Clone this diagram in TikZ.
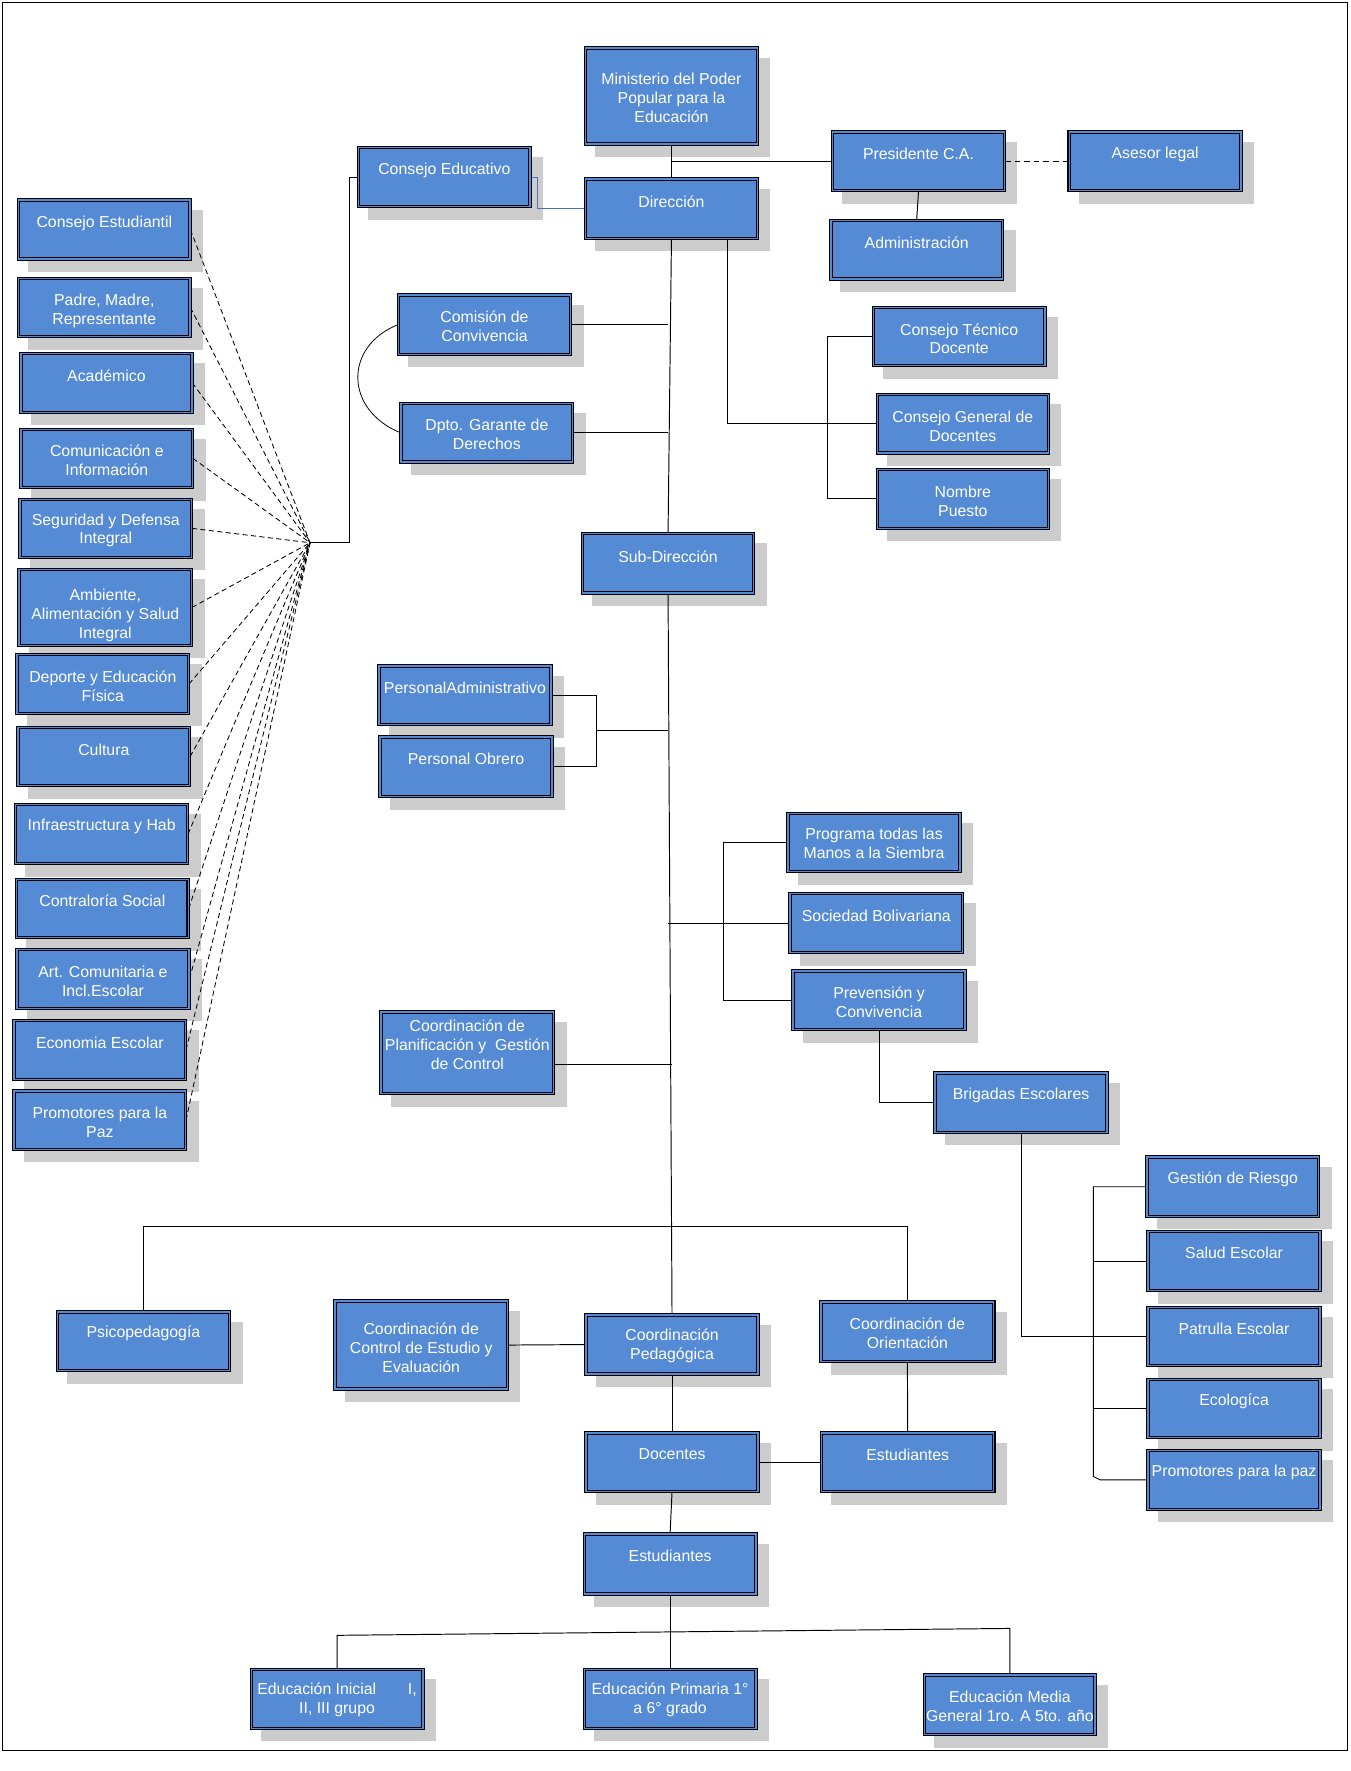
\documentclass[tikz,border=0pt]{standalone}
\usepackage{fontspec}
\setmainfont{Liberation Sans}
\pgfdeclarelayer{shadowlayer}
\pgfdeclarelayer{linelayer}
\pgfsetlayers{shadowlayer,linelayer,main}
\definecolor{boxblue}{RGB}{85,139,213}
\definecolor{shadowgray}{RGB}{204,204,204}
\definecolor{linkblue}{RGB}{68,114,196}
\tikzset{
  orgbox/.style={rectangle, draw=black, line width=0.9pt, double=boxblue, double distance=1.3pt, fill=boxblue, inner sep=0pt},
  boxtext/.style={text=white, align=center, inner sep=0pt, font=\fontsize{14}{16.7}\selectfont},
  conn/.style={draw=black, line width=0.85pt},
  dashconn/.style={draw=black, line width=0.75pt, dash pattern=on 4.5pt off 3pt},
}
% name, x1, y1, x2, y2, text centre y, text
\newcommand\orgnode[7]{%
  \begin{pgfonlayer}{shadowlayer}
    \fill[shadowgray] (#2+10,#3+10) rectangle (#4+10,#5+10);
  \end{pgfonlayer}
  \node[orgbox, minimum width={(#4-#2-3.1)*1pt}, minimum height={(#5-#3-3.1)*1pt},
        label={[boxtext, yshift={((#3+#5)/2-#6)*1pt}]center:#7}]
     (#1) at ({(#2+#4)/2},{(#3+#5)/2}) {};
}
\begin{document}
\begin{tikzpicture}[x=1pt,y=-1pt]
\useasboundingbox (0,0) rectangle (1193,1565);
\draw[line width=1pt] (2,2) rectangle (1190.5,1546.5);

% left column
\orgnode{cest}{15}{175.3}{169.4}{230.6}{197.4}{Consejo Estudiantil}
\orgnode{padre}{15}{244.5}{169.4}{299}{274.4}{Padre, Madre,\\Representante}
\orgnode{acad}{17}{310.8}{171.1}{365.9}{332}{Académico}
\orgnode{comu}{17.1}{377.9}{171.7}{432.4}{407.1}{Comunicación e\\Información}
\orgnode{segu}{16.2}{439.8}{170.8}{494}{468.7}{Seguridad y Defensa\\Integral}
\orgnode{ambi}{15.3}{501.7}{170.8}{571.8}{543.7}{Ambiente,\\Alimentación y Salud\\Integral}
\orgnode{depo}{13.5}{576.8}{168.2}{631.9}{606.4}{Deporte y Educación\\Física}
\orgnode{cult}{14.4}{641.3}{169.1}{695.8}{662.2}{Cultura}
\orgnode{infra}{12.3}{709.3}{167.3}{764.7}{730.5}{Infraestructura y Hab}
\orgnode{contra}{13}{775.6}{167.9}{830.1}{795.9}{Contraloría Social}
\orgnode{artc}{13.5}{837.5}{168.5}{892.6}{867}{Art. Comunitaria e\\Incl.Escolar}
\orgnode{econ}{11}{900.2}{165.5}{955.3}{921.1}{Economia Escolar}
\orgnode{promo}{11}{962.6}{165.5}{1017.2}{991.6}{Promotores para la\\Paz}

% top and middle
\orgnode{mini}{515.9}{40.9}{670.8}{128.7}{86.3}{Ministerio del Poder\\Popular para la\\Educación}
\orgnode{cedu}{315.2}{128.7}{470.1}{184.1}{150.2}{Consejo Educativo}
\orgnode{dire}{515.9}{156.7}{670.8}{212.1}{178.2}{Dirección}
\orgnode{pres}{734.2}{115.2}{889.1}{170}{136.1}{Presidente C.A.}
\orgnode{ases}{943.3}{115.2}{1098.2}{170}{136.1}{Asesor legal}
\orgnode{admi}{732.6}{193.2}{887.5}{248.3}{214.5}{Administración}
\orgnode{ctec}{770.3}{270.1}{925}{324.6}{299.3}{Consejo Técnico\\Docente}
\orgnode{cgen}{773.8}{347}{927.9}{402}{376.6}{Consejo General de\\Docentes}
\orgnode{npue}{773.8}{413.3}{927.9}{468.4}{442.9}{Nombre\\Puesto}
\orgnode{comi}{350.5}{259.2}{505.8}{314.6}{288.5}{Comisión de\\Convivencia}
\orgnode{dpto}{352.9}{355}{507.5}{410}{383.7}{Dpto. Garante de\\Derechos}
\orgnode{subd}{513.2}{469.8}{667.5}{525.5}{492}{Sub-Dirección}
\orgnode{padm}{333.4}{587}{488.4}{641.8}{607.4}{PersonalAdministrativo}
\orgnode{pobr}{334.3}{649.8}{489.3}{705.5}{670.7}{Personal Obrero}
\orgnode{prog}{694.9}{717.3}{849.8}{771.8}{745.4}{Programa todas las\\Manos a la Siembra}
\orgnode{soci}{696.6}{788}{852.2}{843.3}{809.2}{Sociedad Bolivariana}
\orgnode{prev}{699.3}{856.6}{854.3}{911.4}{885.3}{Prevensión y\\Convivencia}
\orgnode{cpla}{335.2}{892.8}{490.7}{968}{923.5}{Coordinación de\\Planificación y\ \ Gestión\\de Control}
\orgnode{brig}{824.8}{946.7}{979.7}{1002.1}{968}{Brigadas Escolares}
\orgnode{gest}{1012.1}{1021}{1166.8}{1076.4}{1042.5}{Gestión de Riesgo}
\orgnode{salu}{1013}{1086.7}{1168}{1142}{1107.5}{Salud Escolar}
\orgnode{patr}{1013}{1153.8}{1168}{1208}{1174.5}{Patrulla Escolar}
\orgnode{ecol}{1013}{1217.5}{1168}{1271.9}{1238}{Ecologíca}
\orgnode{prop}{1013}{1280.2}{1168}{1335.3}{1301.5}{Promotores para la paz}

% bottom
\orgnode{psic}{49.2}{1158}{204.3}{1212.7}{1178.6}{Psicopedagogía}
\orgnode{cctr}{294.6}{1148.2}{449.8}{1229}{1191.3}{Coordinación de\\Control de Estudio y\\Evaluación}
\orgnode{cped}{516.3}{1160.6}{671.4}{1215.7}{1189.5}{Coordinación\\Pedagógica}
\orgnode{cori}{724}{1149}{879.7}{1204.8}{1178.3}{Coordinación de\\Orientación}
\orgnode{doce}{516.3}{1264.9}{671.4}{1319.6}{1285.2}{Docentes}
\orgnode{estr}{724.5}{1264.9}{879.7}{1319.6}{1285.2}{Estudiantes}
\orgnode{estc}{514.8}{1354.1}{669.5}{1410.1}{1375}{Estudiantes}
\orgnode{einic}{220.5}{1473.7}{375.2}{1528.8}{1502.3}{Educación Inicial\hspace{2em}I,\\II, III grupo}
\orgnode{eprim}{514.8}{1473.7}{669.5}{1528.8}{1502.3}{Educación Primaria 1°\\a 6° grado}
\orgnode{emed}{815.6}{1478.7}{969.3}{1534.4}{1507.7}{Educación Media\\General 1ro. A 5to. año}

\coordinate (hub) at (274,479.6);
\coordinate (lbr) at (308.7,479.6);
\coordinate (ctbr) at (731.1,0);
\coordinate (pbr) at (527,645.4);
\coordinate (sbr) at (639.2,817.7);
\coordinate (rbr) at (966.2,1178);
\coordinate (bar) at (0,1083.7);
\coordinate (eduL) at (297.9,1445.1);
\coordinate (eduR) at (892.4,1439);

\begin{pgfonlayer}{linelayer}
\draw[conn] (mini.south) -- (dire.north);
\draw[conn] (mini.south |- pres.west) -- (pres.west);
\draw[conn] (pres.south) -- (admi.north);
\draw[draw=black, line width=1.4pt, dash pattern=on 5pt off 3.5pt] (pres.east) -- (ases.west);
\draw[conn] (dire.south) -- (subd.north);
\draw[conn] (comi.east) -- (comi.east -| subd.north);
\draw[conn] (dpto.east) -- (dpto.east -| subd.north);
\draw[conn] ([xshift=49.3pt]dire.south) |- (cgen.west);
\draw[conn] (ctec.west) -- (ctec.west -| ctbr) -- (npue.west -| ctbr) -- (npue.west);
\draw[linkblue, line width=0.85pt] (cedu.east) -- ++(6,0) |- (dire.west);
\draw[conn] (cedu.west) -| (lbr) -- (hub);
\foreach \n in {cest,padre,acad,comu,segu,ambi,depo,cult,infra,contra,artc,econ,promo}
  \draw[dashconn] (\n.east) -- (hub);
\draw[conn, line width=0.7pt] (comi.west) .. controls (304,306) and (304,362) .. (dpto.west);
\draw[conn] (subd.south) -- (cped.north);
\draw[conn] (padm.east) -| (pbr) |- (pobr.east);
\draw[conn] (pbr) -- (pbr -| subd.south);
\draw[conn] ([yshift=-10pt]cpla.east) -- ([yshift=-10pt]cpla.east -| cped.north);
\draw[conn] (prog.west) -| (sbr) |- (prev.west);
\draw[conn] (soci.west) -- (soci.west -| subd.south);
\draw[conn] (prev.south) |- (brig.west);
\draw[conn] (brig.south) |- (patr.west);
\draw[conn] (gest.west) -- (gest.west -| rbr) -- ([yshift=3pt]prop.west -| rbr) -- ++(6,3) -- (prop.west);
\draw[conn] (salu.west) -- (salu.west -| rbr);
\draw[conn] (ecol.west) -- (ecol.west -| rbr);
\draw[conn] (psic.north) -- (psic.north |- bar) -| (cori.north);
\draw[conn] (cctr.east) -- (cped.west);
\draw[conn] (cped.south) -- (doce.north);
\draw[conn] (doce.south) -- (estc.north);
\draw[conn] (cori.south) -- (estr.north);
\draw[conn] (doce.east) -- (estr.west);
\draw[conn] (einic.north) -- (eduL) -- (eduR) -- (emed.north);
\draw[conn] (estc.south) -- (eprim.north);
\end{pgfonlayer}
\end{tikzpicture}
\end{document}
